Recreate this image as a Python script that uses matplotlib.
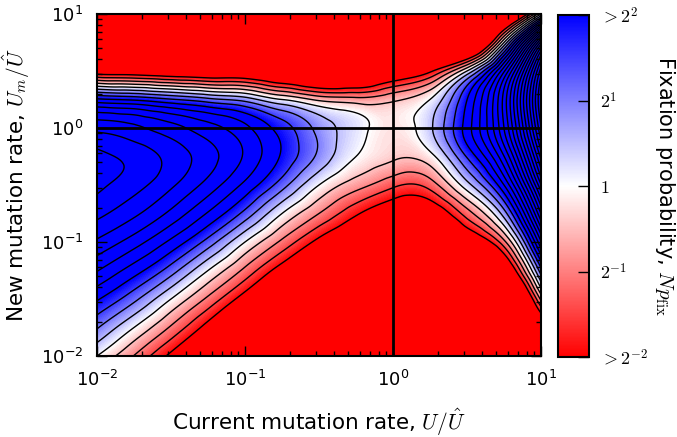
import numpy as np
import matplotlib
matplotlib.use("Agg")
import matplotlib.pyplot as plt
from matplotlib.colors import Normalize
from matplotlib.cm import ScalarMappable
from matplotlib.tri import Triangulation, UniformTriRefiner, CubicTriInterpolator

plt.rcParams['mathtext.fontset'] = 'cm'
plt.rcParams['font.family'] = ['DejaVu Sans']

# grid positions (log10 of U/Û and U_m/Û)
log10_U = [-2.0, -1.75, -1.5, -1.25, -1.0, -0.75, -0.5, -0.25, 0.0, 0.25, 0.5, 0.75, 1.0]
log10_Um = [-2.0, -1.75, -1.5, -1.25, -1.0, -0.75, -0.5, -0.25, 0.0, 0.25, 0.5, 0.75, 1.0]

# log2(N p_fix); rows = U_m (bottom to top), cols = U (left to right)
log2_Np = [
    [0.00, -1.02, -2.16, -3.43, -4.50, -4.50, -4.50, -4.50, -4.50, -4.50, -4.50, -4.50, -4.50],
    [1.05, 0.00, -1.07, -2.26, -3.57, -4.50, -4.50, -4.50, -4.50, -4.50, -4.50, -4.50, -3.07],
    [2.06, 1.14, 0.00, -1.11, -2.33, -3.63, -4.50, -4.50, -4.50, -4.50, -4.50, -4.50, -0.87],
    [3.03, 2.23, 1.24, 0.00, -1.13, -2.34, -3.53, -4.50, -4.50, -4.50, -4.50, -3.12, 1.31],
    [3.91, 3.24, 2.38, 1.30, 0.00, -1.11, -2.20, -3.24, -4.13, -4.30, -2.98, -1.15, 3.45],
    [4.64, 4.11, 3.37, 2.45, 1.33, 0.00, -1.00, -1.91, -2.67, -2.71, -1.25, 0.75, 5.51],
    [5.13, 4.70, 4.09, 3.31, 2.37, 1.22, 0.00, -0.78, -1.38, -1.28, 0.30, 2.50, 7.45],
    [5.15, 4.83, 4.33, 3.70, 2.93, 1.93, 0.88, 0.00, -0.41, -0.17, 1.55, 3.98, 9.15],
    [4.36, 4.12, 3.70, 3.20, 2.63, 1.76, 0.83, 0.20, -0.20, 0.40, 2.25, 5.00, 10.44],
    [2.10, 1.91, 1.55, 1.16, 0.78, 0.00, -0.62, -0.81, -0.60, 0.00, 1.99, 5.19, 11.00],
    [-2.49, -2.57, -2.79, -2.91, -2.91, -3.39, -3.92, -3.75, -2.97, -2.12, 0.00, 3.91, 10.25],
    [-4.50, -4.50, -4.50, -4.50, -4.50, -4.50, -4.50, -4.50, -4.50, -4.50, -4.50, 0.00, 7.19],
    [-4.50, -4.50, -4.50, -4.50, -4.50, -4.50, -4.50, -4.50, -4.50, -4.50, -4.50, -4.50, 0.00],
]

cbar_ticks = [-2, -1, 0, 1, 2]
cbar_labels = [r'${>}2^{-2}$', r'$2^{-1}$', r'$1$', r'$2^{1}$', r'${>}2^{2}$']

Xg, Yg = np.meshgrid(np.array(log10_U), np.array(log10_Um))
Z = np.array(log2_Np)

# smooth the field with matplotlib's triangulation refiner (in log space)
tri = Triangulation(Xg.ravel(), Yg.ravel())
interp = CubicTriInterpolator(tri, Z.ravel(), kind='min_E')
tri_r, z_r = UniformTriRefiner(tri).refine_field(Z.ravel(), triinterpolator=interp, subdiv=4)
tri_plot = Triangulation(10.0 ** tri_r.x, 10.0 ** tri_r.y, tri_r.triangles)

fig = plt.figure(figsize=(6.77, 4.37), dpi=100)
ax = fig.add_axes([97/677, 1-356/437, 444/677, 342/437])
cax = fig.add_axes([558/677, 1-357/437, 31/677, 342/437])

norm = Normalize(-2, 2)
cmap = plt.get_cmap('bwr_r')
ax.tricontourf(tri_plot, z_r, levels=np.linspace(-2, 2, 81), cmap=cmap, norm=norm, extend='both')
line_levels = np.arange(-2, 11.01, 0.5)
ax.tricontour(tri_plot, z_r, levels=line_levels, colors='black', linewidths=1.0, linestyles='solid')

ax.axhline(1.0, color='black', lw=2)
ax.axvline(1.0, color='black', lw=2)

ax.set_xscale('log')
ax.set_yscale('log')
ax.set_xlim(1e-2, 1e1)
ax.set_ylim(1e-2, 1e1)
for s in ax.spines.values():
    s.set_linewidth(1.5)
ax.tick_params(which='both', direction='in', top=True, right=True, labelsize=13, width=1)
ax.tick_params(which='major', length=7, pad=10)
ax.tick_params(which='minor', length=3.5)
ax.set_xlabel(r'Current mutation rate, $U/\hat{U}$', fontsize=15.5, labelpad=12)
ax.set_ylabel(r'New mutation rate, $U_m/\hat{U}$', fontsize=15.5, labelpad=6)

cb = fig.colorbar(ScalarMappable(norm=norm, cmap=cmap), cax=cax, ticks=cbar_ticks)
cb.set_ticklabels(cbar_labels)
cb.outline.set_linewidth(1.5)
cax.tick_params(direction='in', length=8, width=1, labelsize=13, pad=8)
cax.set_ylabel(r'Fixation probability, $Np_{\mathrm{fix}}$', fontsize=15, rotation=270,
               va='center', ha='center')
cax.yaxis.set_label_coords(3.45, 0.5)

fig.savefig('out.png', dpi=100)
